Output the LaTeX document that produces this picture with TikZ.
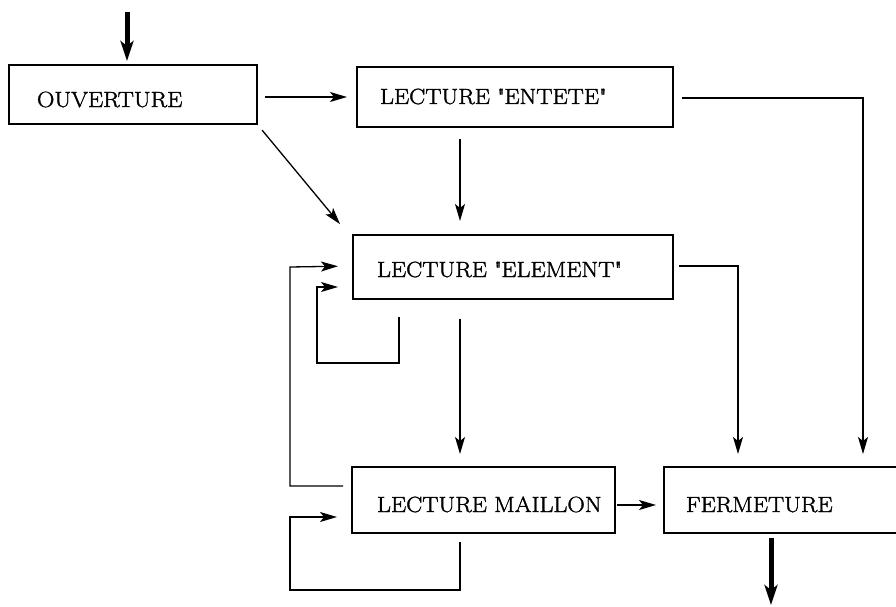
\documentclass[tikz,border=0pt]{standalone}
\usepackage{fontspec}
\setmainfont[FakeStretch=1.1,FakeBold=1.6]{Latin Modern Roman}
\usetikzlibrary{arrows.meta,calc}
\begin{document}
\begin{tikzpicture}[x=1pt,y=-1pt,
  boxnode/.style={draw,line width=1.5pt,rectangle,anchor=north west,inner ysep=0pt,outer sep=0pt,
    align=left,font=\fontsize{22}{26}\selectfont},
  arr/.style={line width=1.3pt,-{Stealth[length=17pt,width=10pt,inset=4pt]}},
  bigarr/.style={line width=5pt,-{Stealth[length=20pt,width=13pt,inset=5pt]}}]
\useasboundingbox (0,0) rectangle (896,607);
\clip (0,0) rectangle (896,607);
% boxes
\node[boxnode,inner xsep=28pt,text width=192pt,text height=42pt,text depth=17pt] (ouv) at (9,65) {OUVERTURE};
\node[boxnode,inner xsep=23pt,text width=270pt,text height=37pt,text depth=23pt] (ent) at (357,67) {LECTURE \textquotedbl ENTETE\textquotedbl};
\node[boxnode,inner xsep=24pt,text width=272pt,text height=42pt,text depth=22pt] (ele) at (353,235) {LECTURE \textquotedbl ELEMENT\textquotedbl};
\node[boxnode,inner xsep=25pt,text width=213pt,text height=45pt,text depth=21pt] (mai) at (352,467) {\mbox{LECTURE MAILLON}};
\node[boxnode,inner xsep=22pt,text width=198pt,text height=45pt,text depth=21pt] (fer) at (664,467) {FERMETURE};
% reference columns
\coordinate (in) at (127,12);
\coordinate (cx) at (460,0);
\coordinate (cm) at (738,0);
\coordinate (cr) at (863,0);
\coordinate (cl) at (290,0);
\coordinate (cs) at (399,0);
\coordinate (ck) at (317,0);
\coordinate (out) at (771,607);
% connectors
\draw[bigarr,shorten >=4pt] (in) -- (in |- ouv.north);
\draw[arr,shorten <=8pt,shorten >=10pt] ($(ouv.east)+(0,2.5)$) -- (ent.west);
\draw[arr,shorten <=8pt,shorten >=14pt] (ouv.south east) -- ($(ele.north west)+(-4,0)$);
\draw[arr,shorten <=12pt,shorten >=14pt] (ent.south -| cx) -- (ele.north -| cx);
\draw[arr,shorten <=20pt,shorten >=13pt] (ele.south -| cx) -- (mai.north -| cx);
\draw[arr,shorten >=13pt] ($(ent.east)+(9,1)$) -| (cr |- fer.north);
\draw[arr,shorten >=13pt] ($(ele.east)+(6,-1)$) -| (cm |- fer.north);
\draw[arr,shorten >=15pt] ($(mai.west)+(-9,-14)$) -| (cl |- ele.west) -- ($(ele.west)+(0,-1)$);
\draw[arr,shorten >=15pt] ($(ele.south -| cs)+(0,18)$) |- ($(ele.south -| ck)+(0,64)$) |- ($(ele.west)+(0,20)$);
\draw[arr,shorten <=2pt,shorten >=8pt] ($(mai.east)+(0,5)$) -- ($(fer.west)+(0,5)$);
\draw[arr,shorten >=15pt] ($(mai.south -| cx)+(0,9)$) |- ($(mai.south -| cl)+(0,57)$) |- ($(mai.west)+(0,17)$);
\draw[bigarr,shorten >=2pt] ($(fer.south -| out)+(0,5)$) -- (out);
\end{tikzpicture}
\end{document}
